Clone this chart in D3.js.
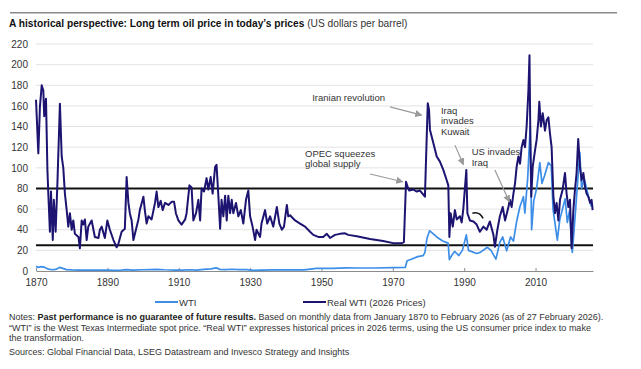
<!DOCTYPE html>
<html><head><meta charset="utf-8">
<script src="https://cdn.jsdelivr.net/npm/d3@7"></script>
<style>
body{margin:0;background:#fff;}
svg{display:block;font-family:"Liberation Sans",Arial,sans-serif;}
</style></head>
<body><svg id="c" width="641" height="369"></svg>
<script>
// ---- data (year as decimal, US$/barrel) ----
const realYears = [1870.0,1870.65,1871.1,1871.6,1872.05,1872.3,1872.8,1873.2,1873.45,1873.9,1874.2,1874.7,1875.0,1875.5,1876.0,1876.7,1877.2,1877.65,1878.1,1878.6,1879.05,1879.5,1880.0,1880.45,1880.9,1881.9,1882.3,1882.8,1883.25,1883.7,1884.2,1884.65,1885.6,1886.5,1887.5,1887.9,1888.4,1889.3,1890.0,1890.7,1891.7,1892.6,1893.05,1894.0,1894.9,1895.4,1895.9,1896.3,1896.8,1897.3,1898.0,1898.7,1899.1,1900.1,1900.5,1901.0,1901.5,1902.4,1903.35,1903.8,1904.3,1904.95,1905.5,1906.15,1907.1,1908.0,1908.7,1909.2,1909.9,1910.8,1911.8,1912.2,1913.0,1913.6,1914.1,1914.85,1915.5,1916.0,1916.4,1917.1,1917.8,1918.3,1918.95,1919.5,1920.2,1920.6,1921.1,1921.6,1922.0,1922.5,1923.0,1923.45,1923.9,1924.4,1924.85,1925.3,1926.05,1926.7,1927.4,1928.1,1928.85,1929.5,1930.0,1930.7,1931.4,1931.8,1932.8,1933.2,1934.2,1934.8,1935.6,1936.5,1937.5,1938.2,1938.9,1939.5,1940.3,1940.7,1941.2,1942.6,1944.0,1945.4,1946.8,1947.7,1949.1,1950.5,1951.5,1952.4,1953.8,1955.2,1956.6,1957.5,1959.9,1963.6,1967.3,1970.1,1972.5,1973.1,1973.7,1974.1,1974.6,1975.75,1976.7,1977.6,1978.55,1979.0,1979.5,1979.8,1980.15,1980.4,1981.35,1982.3,1983.2,1984.15,1985.1,1985.55,1985.85,1986.2,1986.8,1987.4,1987.9,1988.8,1989.3,1989.75,1990.6,1990.9,1991.6,1992.6,1993.5,1994.4,1995.4,1996.3,1997.2,1998.2,1998.6,1999.3,2000.0,2000.8,2001.45,2002.4,2002.8,2003.3,2003.8,2004.25,2004.7,2005.2,2005.65,2006.1,2006.6,2007.05,2007.5,2008.0,2008.3,2008.55,2008.8,2009.2,2009.85,2010.3,2010.8,2011.05,2011.5,2012.0,2012.65,2013.1,2013.6,2014.05,2014.5,2015.0,2015.45,2015.9,2016.4,2016.85,2017.6,2018.25,2018.7,2019.2,2019.65,2020.1,2020.6,2021.05,2021.5,2021.95,2022.45,2022.9,2023.4,2023.85,2024.3,2024.8,2025.3,2025.7,2026.0];
const realValues = [166,114,159,180,175,150,167,98,75,38,77,30,69,38,85,162,111,100,75,59,43,56,40,49,36,33,22,49,45,50,30,43,49,33,32,40,43,32,49,40,30,23,26,38,41,91,66,56,49,30,40,50,59,72,59,46,53,50,66,77,62,68,59,66,64,67,67,56,49,45,50,56,83,81,49,56,69,49,80,77,90,79,91,75,101,103,73,41,69,53,73,49,73,56,69,56,66,53,59,46,69,78,53,43,30,40,33,46,59,46,53,43,62,46,40,43,64,53,54,49,46,43,38,35,33,33,36,32,35,36,36.5,35,33.6,31,29,27,27,28,86.5,82,78,79,77,78,74,72,130,162.5,156,137,124,111,106,98,88,83,33,56,43,59,50,53,47,60,98,56,49,48,45,38,43,40,48,35,23.5,40,53,62,49,62,69,62,75,85,101,111,104,120,127,120,140,175,209,127,72,101,117,127,146,164,140,153,136,146,149,133,120,72,56,66,49,69,79,95,75,62,69,22,59,79,95,128,101,88,95,82,75,72,66,69,59];

const wtiYears = [1870.0,1870.6,1871.5,1872.5,1873.5,1874.5,1875.5,1876.6,1877.5,1878.5,1880,1882,1884,1886,1888,1890,1892,1894,1895.4,1897,1900,1903.8,1906,1909,1911,1913,1915,1917,1919,1920.5,1921.5,1923,1925,1927,1929,1931,1933,1936,1940,1945,1947,1948.5,1953,1957,1960,1965,1970,1973.5,1974.0,1975,1977,1978.5,1979.0,1979.6,1980.3,1981.0,1982.3,1984,1985.5,1985.85,1986.5,1987.3,1988.5,1989.5,1990.6,1991.2,1993.5,1994.5,1996.5,1997.5,1998.9,2000.0,2000.8,2001.9,2003.0,2003.8,2004.7,2005.6,2006.6,2007.0,2007.8,2008.5,2008.9,2009.5,2010.3,2011.2,2011.8,2012.5,2013.6,2014.4,2014.9,2015.5,2016.1,2016.8,2018.3,2018.9,2019.5,2020.3,2020.8,2021.5,2022.4,2022.9,2023.6,2024.3,2025.0,2025.6,2026.0];
const wtiValues = [4.5,3.5,4.3,3.5,1.8,1.2,1.5,3.5,2.5,1.3,1.0,0.9,0.9,0.8,0.9,0.9,0.6,0.8,1.4,0.8,1.2,1.6,1.2,0.9,0.8,1.2,0.8,1.6,2.0,3.1,1.6,1.4,1.7,1.4,1.3,0.65,0.9,1.1,1.0,1.1,1.9,2.6,2.6,3.1,2.9,2.9,3.2,3.6,10,11.2,13.9,14.9,18,32,39,37,33,29,27,11,15,19,15,20,35,20,17,18,23,20,11.5,28,33,19.5,33,29,48,62,72,56,90,140,40,68,80,105,85,92,105,102,60,45,30,50,70,47,58,18,40,72,115,80,90,80,70,63,65];

const yTicks = [0,20,40,60,80,100,120,140,160,180,200,220];
const xTickYears = [1870,1890,1910,1930,1950,1970,1990,2010];
const refLevels = [80,25];
const seriesNames = ["WTI","Real WTI (2026 Prices)"];

// annotations (data units)
const annTexts = [["Iranian revolution"],["Iraq","invades","Kuwait"],["OPEC squeezes","global supply"],["US invades","Iraq"]];
const annTextPos = [[1947.4,164.5],[1983.5,152.6],[1945.4,110.9],[1992.1,112.4]];
const annArrowFrom = [[1969.2,159],[1987.4,122],[1963.6,94],[1998.6,98]];
const annArrowTo = [[1978.1,151],[1989.8,103],[1972.8,86.5],[2002.65,67]];

// ---- drawing ----
const svg = d3.select("#c");
const m = {left:36, right:593, top:44, bottom:271};
const x = d3.scaleLinear().domain([1870, 2026.1]).range([m.left, m.right]);
const y = d3.scaleLinear().domain([0, 220]).range([m.bottom, m.top]);

const realColor = "#1c1470", wtiColor = "#3d8ee8";

// top rule
svg.append("line").attr("x1",10).attr("x2",617).attr("y1",12.7).attr("y2",12.7)
  .attr("stroke","#8a8a8a").attr("stroke-width",1.5);

// title
const t = svg.append("text").attr("x",9).attr("y",27).attr("font-size",10.2).attr("fill","#111");
t.append("tspan").attr("font-weight","bold").text("A historical perspective: Long term oil price in today\u2019s prices ");
t.append("tspan").attr("fill","#333").text("(US dollars per barrel)");

// gridlines
svg.append("g").selectAll("line").data(yTicks.filter(d=>d>0)).join("line")
  .attr("x1",m.left).attr("x2",m.right).attr("y1",d=>y(d)).attr("y2",d=>y(d))
  .attr("stroke","#e3e3e3").attr("stroke-width",1);

// y axis labels
const yAxis = d3.axisLeft(y).tickValues(yTicks).tickSize(0).tickPadding(8);
const gy = svg.append("g").attr("transform",`translate(${m.left},0)`).call(yAxis);
gy.select(".domain").remove();
gy.selectAll("text").attr("font-size",10).attr("fill","#333").attr("font-family","Liberation Sans, Arial, sans-serif");

// x axis
const xAxis = d3.axisBottom(x).tickValues(xTickYears).tickFormat(d3.format("d")).tickSizeInner(-3).tickSizeOuter(0).tickPadding(8);
const gx = svg.append("g").attr("transform",`translate(0,${m.bottom})`).call(xAxis);
gx.select(".domain").attr("stroke","#8c8c8c");
gx.selectAll(".tick line").attr("stroke","#8c8c8c");
gx.selectAll("text").attr("font-size",10).attr("fill","#333").attr("font-family","Liberation Sans, Arial, sans-serif");

// reference lines
svg.append("g").selectAll("line").data(refLevels).join("line")
  .attr("x1",m.left).attr("x2",m.right).attr("y1",d=>y(d)).attr("y2",d=>y(d))
  .attr("stroke","#111").attr("stroke-width",2);

const line = d3.line().x(d=>x(d[0])).y(d=>y(d[1]));
const wtiData = wtiYears.map((yr,i)=>[yr,wtiValues[i]]);
const realData = realYears.map((yr,i)=>[yr,realValues[i]]);

svg.append("path").datum(wtiData).attr("d",line).attr("fill","none")
  .attr("stroke",wtiColor).attr("stroke-width",1.7).attr("stroke-linejoin","round");
svg.append("path").datum(realData).attr("d",line).attr("fill","none")
  .attr("stroke",realColor).attr("stroke-width",2).attr("stroke-linejoin","round");

// small black arc near 1993
svg.append("path").attr("d",`M${x(1992.3)},${y(56)} Q${x(1994.3)},${y(58)} ${x(1995.3)},${y(51)}`)
  .attr("fill","none").attr("stroke","#111").attr("stroke-width",1.6);

// arrows
const defs = svg.append("defs");
defs.append("marker").attr("id","ah").attr("viewBox","0 0 10 10").attr("refX",9).attr("refY",5)
  .attr("markerWidth",6).attr("markerHeight",6).attr("orient","auto")
  .append("path").attr("d","M0,0 L10,5 L0,10 z").attr("fill","#9a9a9a");
svg.append("g").selectAll("line").data(annArrowFrom).join("line")
  .attr("x1",d=>x(d[0])).attr("y1",d=>y(d[1]))
  .attr("x2",(d,i)=>x(annArrowTo[i][0])).attr("y2",(d,i)=>y(annArrowTo[i][1]))
  .attr("stroke","#9a9a9a").attr("stroke-width",1.2).attr("marker-end","url(#ah)");

// annotation texts
annTexts.forEach((lines,i)=>{
  const tx = svg.append("text").attr("font-size",9.5).attr("fill","#333")
    .attr("x",x(annTextPos[i][0])).attr("y",y(annTextPos[i][1]));
  lines.forEach((s,j)=>tx.append("tspan").attr("x",x(annTextPos[i][0])).attr("dy",j?10.6:0).text(s));
});

// legend
const leg = [[155,wtiColor],[303,realColor]];
leg.forEach((l,i)=>{
  svg.append("line").attr("x1",l[0]).attr("x2",l[0]+23).attr("y1",302).attr("y2",302)
    .attr("stroke",l[1]).attr("stroke-width",2);
  svg.append("text").attr("x",l[0]+24).attr("y",305.5).attr("font-size",9.5).attr("fill","#333").text(seriesNames[i]);
});

// notes
const nf = 9;
const n1 = svg.append("text").attr("x",9).attr("y",320).attr("font-size",nf).attr("fill","#333");
n1.append("tspan").text("Notes: ");
n1.append("tspan").attr("font-weight","bold").attr("fill","#222").text("Past performance is no guarantee of future results.");
n1.append("tspan").text(" Based on monthly data from January 1870 to February 2026 (as of 27 February 2026).");
svg.append("text").attr("x",9).attr("y",330.5).attr("font-size",nf).attr("fill","#333")
  .text("\u201CWTI\u201D is the West Texas Intermediate spot price. \u201CReal WTI\u201D expresses historical prices in 2026 terms, using the US consumer price index to make");
svg.append("text").attr("x",9).attr("y",341).attr("font-size",nf).attr("fill","#333").text("the transformation.");
svg.append("text").attr("x",9).attr("y",355).attr("font-size",nf).attr("fill","#333")
  .text("Sources: Global Financial Data, LSEG Datastream and Invesco Strategy and Insights");
</script></body></html>
